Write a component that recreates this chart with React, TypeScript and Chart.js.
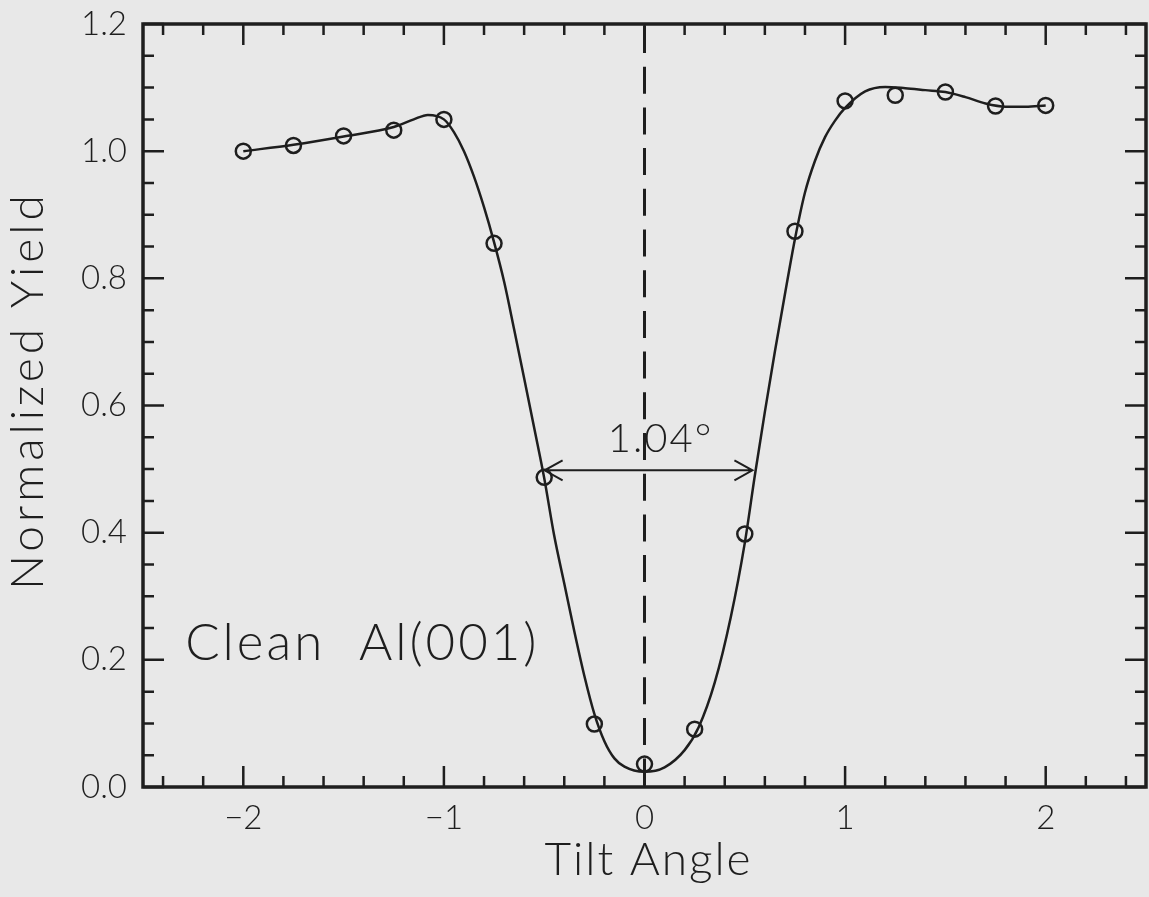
import React, { useEffect, useRef } from 'react';
import { Chart, registerables } from 'chart.js';

Chart.register(...registerables);

// Measured channeling yield (open circles)
const tiltAngles = [-2, -1.75, -1.5, -1.25, -1, -0.75, -0.5, -0.25, 0, 0.25, 0.5, 0.75, 1, 1.25, 1.5, 1.75, 2];
const measuredYield = [1.0, 1.009, 1.024, 1.033, 1.05, 0.855, 0.487, 0.099, 0.036, 0.091, 0.398, 0.874, 1.079, 1.088, 1.093, 1.071, 1.072];

// Smooth fitted curve
const fitAngles = [-2.0, -1.75, -1.5, -1.25, -1.15, -1.08, -1.0, -0.95, -0.9, -0.85, -0.8, -0.75, -0.7, -0.65, -0.6, -0.55, -0.5, -0.45, -0.4, -0.35, -0.3, -0.25, -0.2, -0.15, -0.1, 0, 0.1, 0.2, 0.27, 0.35, 0.43, 0.5, 0.55, 0.6, 0.65, 0.7, 0.75, 0.8, 0.85, 0.9, 0.95, 1.0, 1.1, 1.2, 1.3, 1.4, 1.5, 1.6, 1.7, 1.8, 1.9, 2.0];
const fitYield = [1.0, 1.01, 1.023, 1.038, 1.05, 1.057, 1.05, 1.03, 1.0, 0.96, 0.912, 0.857, 0.795, 0.72, 0.643, 0.565, 0.486, 0.395, 0.32, 0.245, 0.175, 0.115, 0.072, 0.045, 0.032, 0.024, 0.031, 0.058, 0.094, 0.164, 0.267, 0.384, 0.49, 0.59, 0.685, 0.775, 0.862, 0.935, 0.985, 1.022, 1.048, 1.068, 1.094, 1.101, 1.099, 1.096, 1.093, 1.085, 1.075, 1.07, 1.07, 1.072];

// Axes
const xRange = [-2.5, 2.5];
const yRange = [0, 1.2];
const xMajorTicks = [-2, -1, 0, 1, 2];
const xMinorTicks = [-2.4, -2.2, -1.8, -1.6, -1.4, -1.2, -0.8, -0.6, -0.4, -0.2, 0.2, 0.4, 0.6, 0.8, 1.2, 1.4, 1.6, 1.8, 2.2, 2.4];
const yMajorTicks = [0, 0.2, 0.4, 0.6, 0.8, 1.0, 1.2];
const yMinorTicks = [0.05, 0.1, 0.15, 0.25, 0.3, 0.35, 0.45, 0.5, 0.55, 0.65, 0.7, 0.75, 0.85, 0.9, 0.95, 1.05, 1.1, 1.15];
const xTitle = 'Tilt Angle';
const yTitle = 'Normalized Yield';

// Annotations
const fwhmLeft = -0.498;
const fwhmRight = 0.538;
const fwhmLevel = 0.498;
const fwhmLabel = '1.04°';
const fwhmLabelPos = [0.08, 0.527];
const sampleLabel = 'Clean  Al(001)';
const sampleLabelPos = [-2.29, 0.2];
const centerLine = 0;

const W = 1149;
const H = 897;
const FONT = 'Lato, "DejaVu Sans", sans-serif';
const INK = '#1e1e1e';

const decorPlugin = {
  id: 'decor',
  afterDatasetsDraw(chart: any) {
    const { ctx, chartArea, scales } = chart;
    const xs = scales.x;
    const ys = scales.y;
    const { left, right, top, bottom } = chartArea;
    ctx.save();
    ctx.strokeStyle = INK;
    ctx.fillStyle = INK;
    ctx.lineCap = 'butt';

    // ticks on all four sides, pointing inward
    ctx.lineWidth = 2.5;
    const vTick = (v: number, len: number) => {
      const px = xs.getPixelForValue(v);
      ctx.beginPath();
      ctx.moveTo(px, bottom);
      ctx.lineTo(px, bottom - len);
      ctx.moveTo(px, top);
      ctx.lineTo(px, top + len);
      ctx.stroke();
    };
    const hTick = (v: number, len: number) => {
      const py = ys.getPixelForValue(v);
      ctx.beginPath();
      ctx.moveTo(left, py);
      ctx.lineTo(left + len, py);
      ctx.moveTo(right, py);
      ctx.lineTo(right - len, py);
      ctx.stroke();
    };
    xMajorTicks.forEach((v) => vTick(v, 21));
    xMinorTicks.forEach((v) => vTick(v, 11));
    yMajorTicks.forEach((v) => hTick(v, 21));
    yMinorTicks.forEach((v) => hTick(v, 11));

    // frame
    ctx.lineWidth = 3.5;
    ctx.strokeRect(left, top, right - left, bottom - top);

    // dashed centre line
    ctx.lineWidth = 3;
    ctx.setLineDash([27, 13.7]);
    const cx = xs.getPixelForValue(centerLine);
    ctx.beginPath();
    ctx.moveTo(cx, top + 2);
    ctx.lineTo(cx, bottom);
    ctx.stroke();
    ctx.setLineDash([]);

    // FWHM arrow
    const ay = ys.getPixelForValue(fwhmLevel);
    const ax1 = xs.getPixelForValue(fwhmLeft);
    const ax2 = xs.getPixelForValue(fwhmRight);
    ctx.lineWidth = 2;
    ctx.beginPath();
    ctx.moveTo(ax1, ay);
    ctx.lineTo(ax2, ay);
    ctx.moveTo(ax1 + 18, ay - 10);
    ctx.lineTo(ax1, ay);
    ctx.lineTo(ax1 + 18, ay + 10);
    ctx.moveTo(ax2 - 18, ay - 10);
    ctx.lineTo(ax2, ay);
    ctx.lineTo(ax2 - 18, ay + 10);
    ctx.stroke();

    // labels
    ctx.textBaseline = 'alphabetic';
    ctx.textAlign = 'center';
    ctx.font = `300 40px ${FONT}`;
    ctx.letterSpacing = '2px';
    ctx.fillText(fwhmLabel, xs.getPixelForValue(fwhmLabelPos[0]), ys.getPixelForValue(fwhmLabelPos[1]));

    ctx.textAlign = 'left';
    ctx.font = `300 51px ${FONT}`;
    ctx.letterSpacing = '3px';
    ctx.fillText(sampleLabel, xs.getPixelForValue(sampleLabelPos[0]), ys.getPixelForValue(sampleLabelPos[1]));

    // x-axis title
    ctx.font = `300 46px ${FONT}`;
    ctx.letterSpacing = '2px';
    ctx.textAlign = 'center';
    ctx.textBaseline = 'alphabetic';
    ctx.fillText(xTitle, (left + right) / 2 + 4, bottom + 88);

    // y-axis title (rotated), with the wide tracking of the original
    ctx.save();
    ctx.font = `300 46px ${FONT}`;
    ctx.letterSpacing = '4px';
    ctx.textAlign = 'center';
    ctx.textBaseline = 'middle';
    ctx.translate(28, (top + bottom) / 2 - 15);
    ctx.rotate(-Math.PI / 2);
    ctx.fillText(yTitle, 0, 0);
    ctx.restore();

    ctx.restore();
  },
};

const fmt = (v: number, digits: number) => {
  const s = Math.abs(v).toFixed(digits);
  return v < 0 ? '\u2212' + s : s;
};

const zeroPadding = (s: any) => {
  s.paddingTop = 0;
  s.paddingBottom = 0;
  s.paddingLeft = 0;
  s.paddingRight = 0;
};

export default function App() {
  const canvasRef = useRef<HTMLCanvasElement | null>(null);

  useEffect(() => {
    if (!canvasRef.current) return;
    const chart = new Chart(canvasRef.current, {
      type: 'scatter',
      data: {
        datasets: [
          {
            type: 'line',
            label: 'fit',
            data: fitAngles.map((x, i) => ({ x, y: fitYield[i] })),
            borderColor: INK,
            borderWidth: 2.5,
            pointRadius: 0,
            fill: false,
            cubicInterpolationMode: 'monotone',
            order: 2,
          } as any,
          {
            type: 'scatter',
            label: 'data',
            data: tiltAngles.map((x, i) => ({ x, y: measuredYield[i] })),
            showLine: false,
            pointStyle: 'circle',
            pointRadius: 7.5,
            pointBorderWidth: 2.5,
            borderColor: INK,
            backgroundColor: 'rgba(0,0,0,0)',
            order: 1,
          } as any,
        ],
      },
      options: {
        animation: false,
        responsive: false,
        maintainAspectRatio: false,
        devicePixelRatio: 1,
        layout: { autoPadding: false, padding: { left: 0, right: 3, top: 24, bottom: 0 } },
        plugins: {
          legend: { display: false },
          tooltip: { enabled: false },
        },
        scales: {
          x: {
            type: 'linear',
            min: xRange[0],
            max: xRange[1],
            grid: { display: false, drawTicks: false },
            border: { display: false },
            afterBuildTicks: (s: any) => {
              s.ticks = xMajorTicks.map((v) => ({ value: v }));
            },
            afterFit: (s: any) => {
              s.height = 110;
              zeroPadding(s);
            },
            ticks: {
              padding: 12,
              color: INK,
              font: { family: FONT, size: 33, weight: '300' },
              callback: (v: any) => fmt(Number(v), 0),
              maxRotation: 0,
              autoSkip: false,
            },
            title: { display: false },
          },
          y: {
            type: 'linear',
            min: yRange[0],
            max: yRange[1],
            grid: { display: false, drawTicks: false },
            border: { display: false },
            afterBuildTicks: (s: any) => {
              s.ticks = yMajorTicks.map((v) => ({ value: v }));
            },
            afterFit: (s: any) => {
              s.width = 143;
              zeroPadding(s);
            },
            ticks: {
              padding: 16,
              color: INK,
              font: { family: FONT, size: 33, weight: '300' },
              callback: (v: any) => fmt(Number(v), 1),
              autoSkip: false,
            },
            title: { display: false },
          },
        },
      } as any,
      plugins: [decorPlugin],
    });
    return () => chart.destroy();
  }, []);

  return (
    <div style={{ position: 'absolute', left: 0, top: 0, width: W, height: H, background: '#e8e8e8' }}>
      <canvas ref={canvasRef} width={W} height={H} style={{ display: 'block', width: W, height: H }} />
    </div>
  );
}
